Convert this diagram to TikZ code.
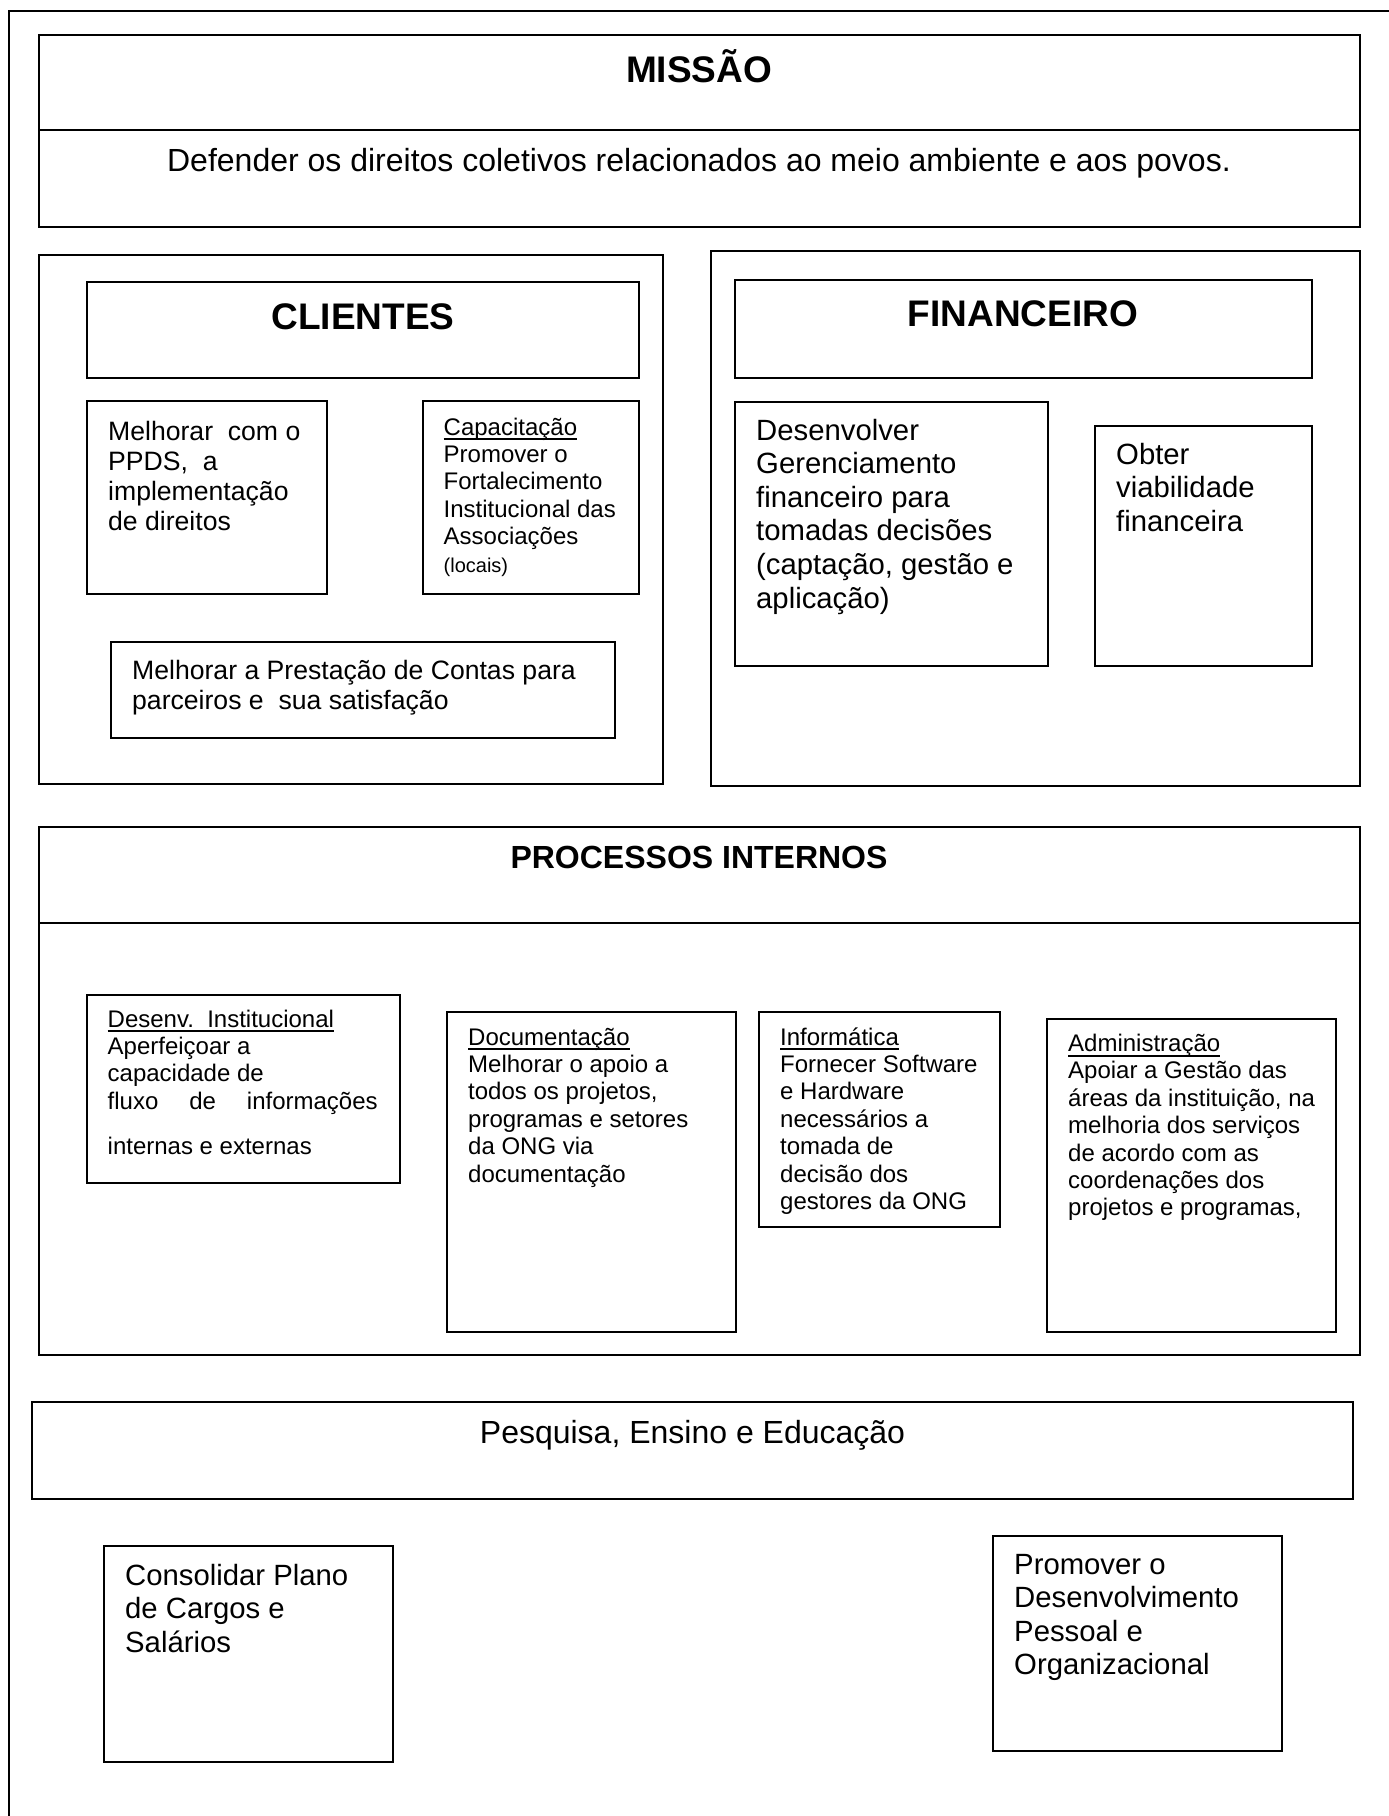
\documentclass[tikz,border=0pt]{standalone}
\usepackage{fontspec}
\setmainfont{Liberation Sans}
\usetikzlibrary{fit}

% left-aligned block of lines whose first baseline is the reference point
\newcommand{\linesof}[1]{\begin{tabular}[t]{@{}l@{}}#1\end{tabular}}
% heading with a firm underline
\newcommand{\undertext}[1]{\setbox0\hbox{#1}\rlap{\rule[-5pt]{\wd0}{1.8pt}}\box0}

\tikzset{
  panel/.style={draw, line width=2pt, inner sep=0pt, outer sep=0pt},
  headtxt/.style={inner sep=0pt, anchor=base, font=\fontsize{37}{42}\selectfont\bfseries},
  subhead/.style={inner sep=0pt, anchor=base, font=\fontsize{32}{37}\selectfont\bfseries},
  leadtxt/.style={inner sep=0pt, anchor=base, font=\fontsize{32}{37}\selectfont},
  bodytxt/.style={inner sep=0pt, anchor=base west, font=\fontsize{26.6}{30}\selectfont},
  largetxt/.style={inner sep=0pt, anchor=base west, font=\fontsize{29.3}{33.6}\selectfont},
  smalltxt/.style={inner sep=0pt, anchor=base west, font=\fontsize{24}{27.4}\selectfont},
}

\begin{document}
\begin{tikzpicture}[x=1pt, y=-1pt]
\useasboundingbox (0,0) rectangle (1389,1816);
\clip (0,0) rectangle (1389,1816);

% page frame
\draw[line width=2pt] (8.5,11) rectangle (1420,1840);

% mission
\node[panel, fit={(39,35) (1360,227)}] (missao) {};
\draw[line width=2pt] (missao.west |- 0,130) -- (missao.east |- 0,130);
\node[headtxt] (missaoT) at (699,82) {MISSÃO};
\node[leadtxt] (missaoD) at (699,171) {Defender os direitos coletivos relacionados ao meio ambiente e aos povos.};

% clients
\node[panel, fit={(39,255) (663,784)}] (clientes) {};
\node[panel, fit={(87,282) (639,378)}] (clientesH) {};
\node[headtxt] (clientesT) at (363,329) {CLIENTES};
\node[panel, fit={(87,401) (327,594)}] (ppds) {};
\node[bodytxt] (ppdsT) at (108,440) {\linesof{Melhorar~ com o\\ PPDS,~ a\\ implementação\\ de direitos}};
\node[panel, fit={(423,401) (639,594)}] (capac) {};
\node[smalltxt] (capacT) at (443.5,435) {\linesof{\undertext{Capacitação}\\ Promover o\\ Fortalecimento\\ Institucional das\\ Associações\\ {\fontsize{20}{23}\selectfont(locais)}}};
\node[panel, fit={(111,642) (615,738)}] (contas) {};
\node[bodytxt] (contasT) at (132,679) {\linesof{Melhorar a Prestação de Contas para\\ parceiros e~ sua satisfação}};

% finance
\node[panel, fit={(711,251) (1360,786)}] (financeiro) {};
\node[panel, fit={(735,280) (1312,378)}] (financeiroH) {};
\node[headtxt] (financeiroT) at (1023,326) {FINANCEIRO};
\node[panel, fit={(735,402) (1048,666)}] (gerenc) {};
\node[largetxt] (gerencT) at (756,440) {\linesof{Desenvolver\\ Gerenciamento\\ financeiro para\\ tomadas decisões\\ (captação, gestão e\\ aplicação)}};
\node[panel, fit={(1095,426) (1312,666)}] (viab) {};
\node[largetxt] (viabT) at (1116,464) {\linesof{Obter\\ viabilidade\\ financeira}};

% internal processes
\node[panel, fit={(39,827) (1360,1355)}] (processos) {};
\draw[line width=2pt] (processos.west |- 0,923) -- (processos.east |- 0,923);
\node[subhead] (processosT) at (699,868) {PROCESSOS INTERNOS};
\node[panel, fit={(87,995) (400,1183)}] (desinst) {};
\node[smalltxt] (desinstT) at (107.5,1027) {\linesof{\undertext{Desenv.\ \ Institucional}\\ Aperfeiçoar a\\ capacidade de\\ \makebox[270pt][s]{fluxo de informações}\\[17.6pt] internas e externas}};
\node[panel, fit={(447,1012) (736,1332)}] (docum) {};
\node[smalltxt] (documT) at (468,1045) {\linesof{\undertext{Documentação}\\ Melhorar o apoio a\\ todos os projetos,\\ programas e setores\\ da ONG via\\ documentação}};
\node[panel, fit={(759,1012) (1000,1227)}] (inform) {};
\node[smalltxt] (informT) at (780,1045) {\linesof{\undertext{Informática}\\ Fornecer Software\\ e Hardware\\ necessários a\\ tomada de\\ decisão dos\\ gestores da ONG}};
\node[panel, fit={(1047,1019) (1336,1332)}] (admin) {};
\node[smalltxt] (adminT) at (1068,1051.5) {\linesof{\undertext{Administração}\\ Apoiar a Gestão das\\ áreas da instituição, na\\ melhoria dos serviços\\ de acordo com as\\ coordenações dos\\ projetos e programas,}};

% learning and growth
\node[panel, fit={(32,1402) (1353,1499)}] (pesquisa) {};
\node[leadtxt] (pesquisaT) at (692.5,1443) {Pesquisa, Ensino e Educação};
\node[panel, fit={(104,1546) (393,1762)}] (cargos) {};
\node[largetxt] (cargosT) at (125,1585) {\linesof{Consolidar Plano\\ de Cargos e\\ Salários}};
\node[panel, fit={(993,1536) (1282,1751)}] (pessoal) {};
\node[largetxt] (pessoalT) at (1014,1574) {\linesof{Promover o\\ Desenvolvimento\\ Pessoal e\\ Organizacional}};
\end{tikzpicture}
\end{document}
